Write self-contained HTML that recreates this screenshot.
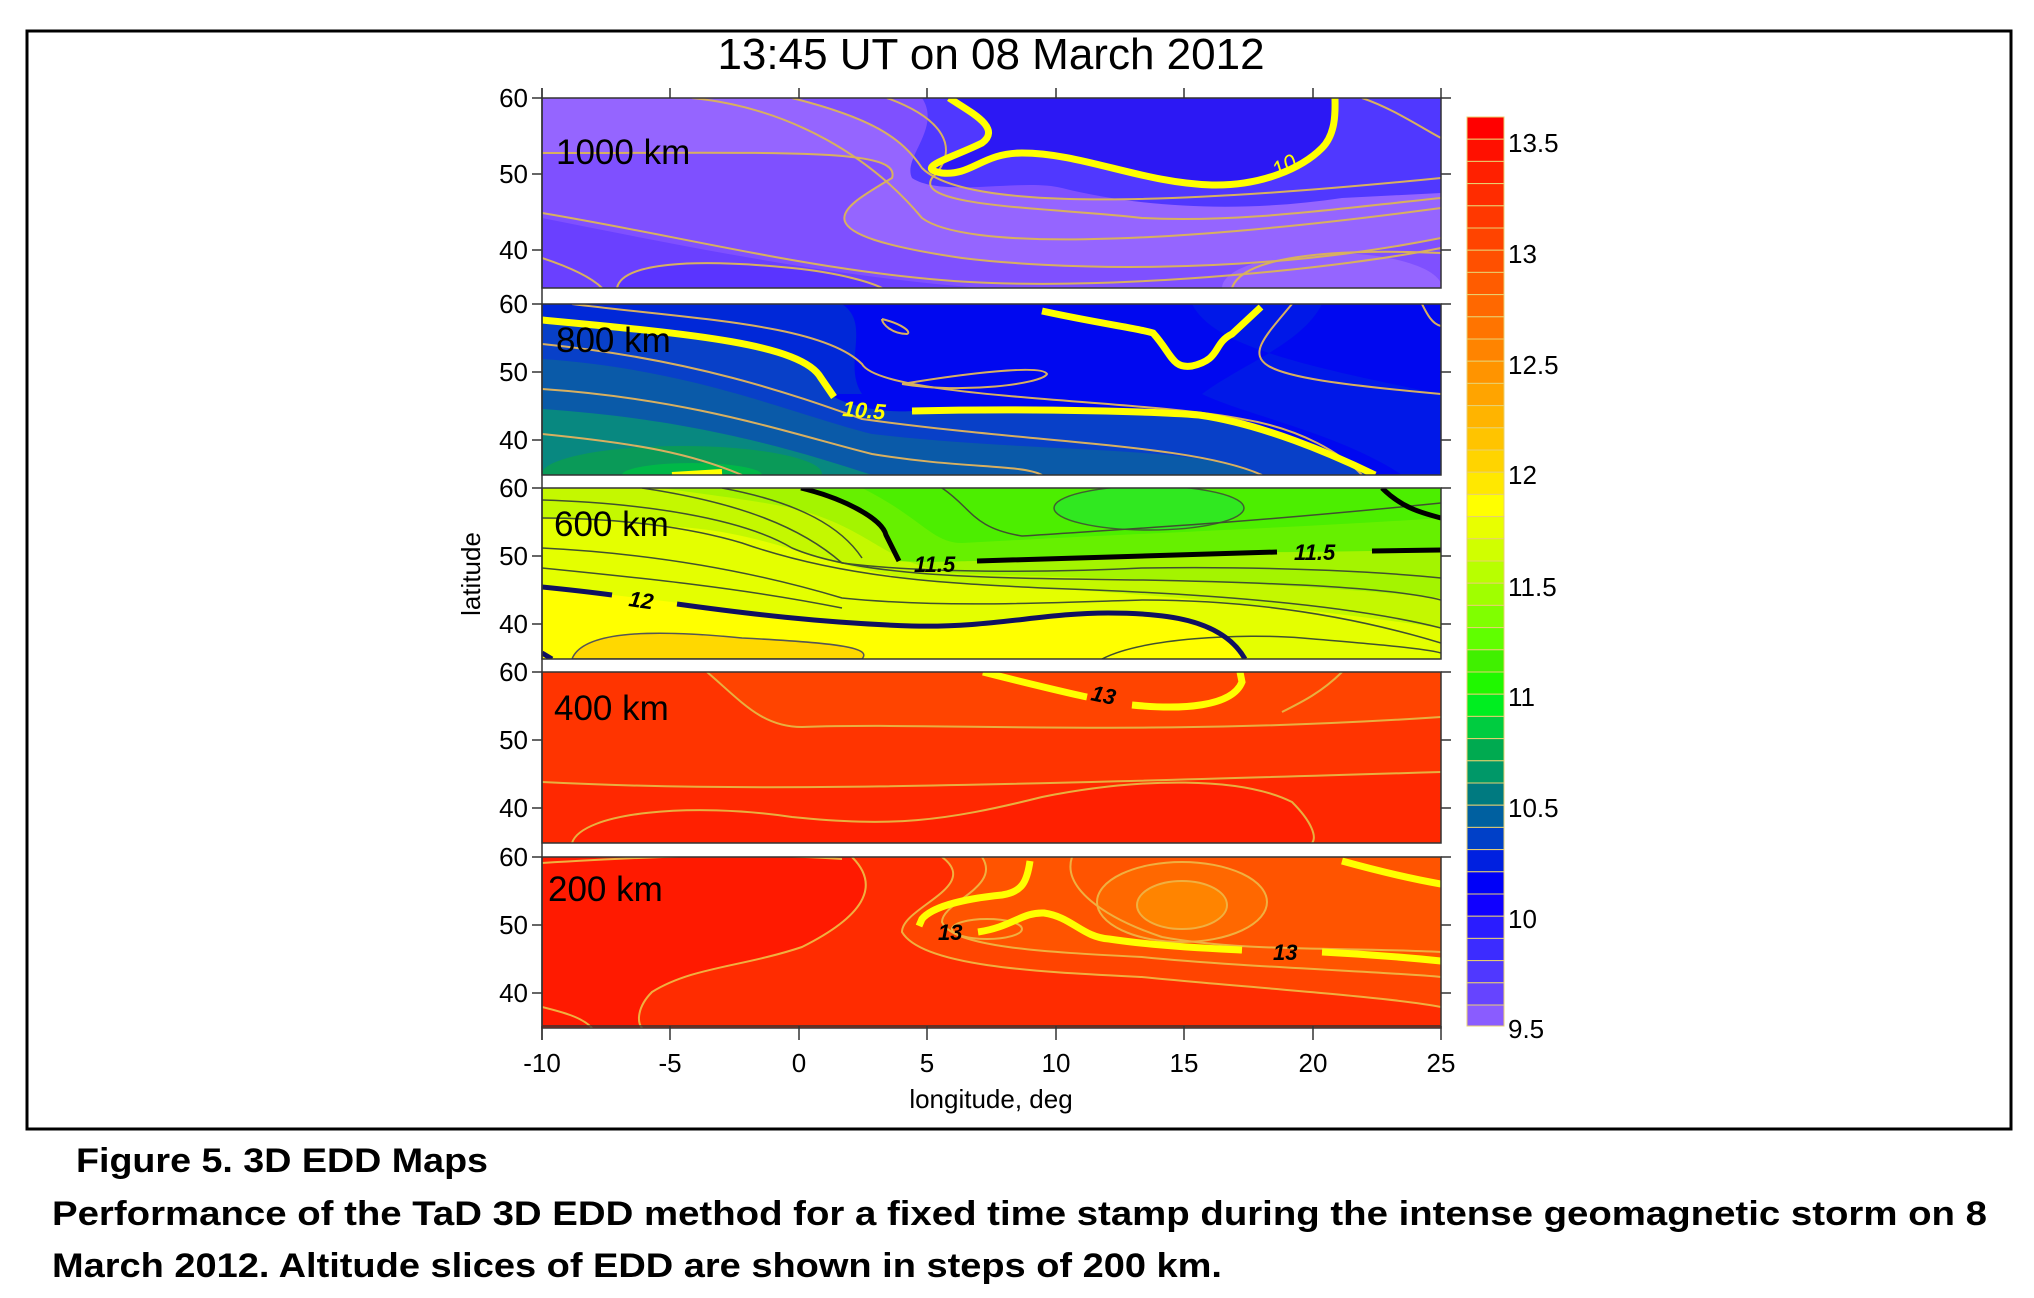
<!DOCTYPE html>
<html><head><meta charset="utf-8"><style>
html,body{margin:0;padding:0;background:#fff;}
svg{display:block;}
text{font-family:"Liberation Sans",Arial,sans-serif;}
</style></head><body>
<svg width="2034" height="1298" viewBox="0 0 2034 1298" xmlns="http://www.w3.org/2000/svg">
<defs>
<clipPath id="cp"><rect x="0" y="0" width="899" height="190"/></clipPath>
<clipPath id="cq"><rect x="0" y="0" width="899" height="171"/></clipPath>
</defs>
<rect x="27" y="31" width="1984" height="1098" fill="#fff" stroke="#000" stroke-width="3"/>
<text x="991" y="69" font-size="44" text-anchor="middle">13:45 UT on 08 March 2012</text>

<!-- 1000 km -->
<g transform="translate(542,98)">
<g clip-path="url(#cp)">
<rect width="899" height="190" fill="#7f50ff"/>
<path d="M0,0 L250,0 C330,20 360,40 380,70 C420,110 600,110 899,80 L899,140 C700,180 500,170 420,160 C250,135 300,110 350,80 C360,50 250,55 0,55 Z" fill="#9565ff"/>
<path d="M0,120 C150,150 300,180 440,190 L0,190 Z" fill="#6a40ff"/>
<path d="M75,190 C80,165 150,160 250,170 C300,175 330,185 340,190 Z" fill="#5a34ff"/>
<ellipse cx="790" cy="190" rx="110" ry="35" fill="#9565ff"/>
<path d="M380,0 C400,30 360,60 370,80 C400,100 480,80 520,90 C600,110 700,115 800,100 L899,95 L899,0 Z" fill="#5038ff"/>
<path d="M407,0 C430,15 460,30 440,45 C410,60 370,70 400,75 C430,78 440,55 480,55 C540,55 600,85 670,87 C720,88 760,70 780,50 C795,35 793,10 793,0 Z" fill="#2c18f4"/>
<g fill="none" stroke="#d8b060" stroke-width="2">
<path d="M150,0 C250,10 330,60 380,120 C420,150 600,150 899,110"/>
<path d="M250,0 C330,20 360,40 380,70 C420,110 600,110 899,80"/>
<path d="M0,55 C250,55 360,50 350,80 C300,110 250,135 420,160 C500,170 700,180 899,140"/>
<path d="M0,115 C150,140 300,180 450,185 C600,190 800,170 899,150"/>
<path d="M75,190 C80,165 150,160 250,170 C300,175 330,185 340,190"/>
<path d="M0,160 C30,170 50,180 60,190"/>
<path d="M345,0 C400,20 420,50 390,80 C370,110 520,110 600,120 C700,125 800,110 899,100"/>
<path d="M690,190 C700,160 780,150 899,155"/>
<path d="M820,0 C850,10 880,30 899,40"/>
</g>
<path d="M407,0 C430,15 460,30 440,45 C410,60 370,70 400,75 C430,78 440,55 480,55 C540,55 600,85 670,87 C720,88 760,70 780,50 C795,35 793,10 793,0" fill="none" stroke="#ffff00" stroke-width="7"/>
<text x="735" y="80" font-size="22" fill="#ffff00" font-style="italic" transform="rotate(-28 735 80)">10</text>
</g>
<rect width="899" height="190" fill="none" stroke="#333" stroke-width="1.5"/>
<text x="14" y="66" font-size="35">1000 km</text>
</g>

<!-- 800 km -->
<g transform="translate(542,304)">
<g clip-path="url(#cq)">
<rect width="899" height="171" fill="#0008f0"/>
<path d="M0,0 H300 C330,20 300,60 320,90 L0,90 Z" fill="#0028d8"/>
<path d="M0,16 C150,30 260,40 279,74 L292,93 C320,108 360,108 370,107 C500,104 620,108 657,111 C720,120 790,150 833,171 L0,171 Z" fill="#0840c8"/>
<path d="M0,55 C150,65 250,110 330,130 C500,150 650,140 720,171 L0,171 Z" fill="#0a5aa8"/>
<path d="M0,105 C150,115 250,145 330,171 L0,171 Z" fill="#088880"/>
<ellipse cx="140" cy="170" rx="140" ry="28" fill="#0a9a58"/>
<ellipse cx="150" cy="171" rx="70" ry="12" fill="#00b848"/>
<path d="M650,0 C670,40 750,60 899,90 L899,171 L860,171 C800,130 700,110 660,90 C700,60 760,40 780,0 Z" fill="#0018e8"/>
<g fill="none" stroke="#d8b060" stroke-width="2">
<path d="M0,40 C150,55 250,90 320,115 C500,140 650,140 720,171"/>
<path d="M0,85 C150,95 250,130 330,150 C420,165 480,160 500,171"/>
<path d="M0,130 C100,140 150,150 200,171"/>
<path d="M30,0 C150,15 280,20 320,60 C340,95 600,95 700,115 C760,125 800,150 820,171"/>
<path d="M360,80 C420,70 500,60 505,70 C500,80 420,90 360,80"/>
<path d="M340,15 C360,20 370,28 365,30 C350,30 340,20 340,15"/>
<path d="M750,0 C700,60 680,70 899,90"/>
<path d="M880,0 C885,10 890,20 899,22"/>
</g>
<path d="M0,16 C150,30 260,40 279,74 L292,93" fill="none" stroke="#ffff00" stroke-width="7"/>
<path d="M370,107 C500,104 620,108 657,111 C720,120 790,150 833,171" fill="none" stroke="#ffff00" stroke-width="7"/>
<path d="M500,7 C560,20 600,25 611,29 C630,50 630,65 650,62 C680,55 670,40 690,30 L719,3" fill="none" stroke="#ffff00" stroke-width="7"/>
<path d="M130,171 L180,168" stroke="#ffff00" stroke-width="6"/>
<text x="300" y="112" font-size="22" fill="#ffff00" font-style="italic" font-weight="bold" transform="rotate(5 300 112)">10.5</text>
</g>
<rect width="899" height="171" fill="none" stroke="#333" stroke-width="1.5"/>
<text x="14" y="48" font-size="35">800 km</text>
</g>

<!-- 600 km -->
<g transform="translate(542,488)">
<g clip-path="url(#cq)">
<rect width="899" height="171" fill="#ffff00"/>
<path d="M0,0 H899 V171 L703,171 C680,130 620,125 566,125 C500,125 450,140 370,138 C280,135 150,115 0,99 Z" fill="#e4ff00"/>
<path d="M0,0 L899,0 L899,140 C700,110 500,100 420,95 C300,90 250,50 150,40 C80,35 40,30 0,30 Z" fill="#c4f800"/>
<path d="M120,0 L899,0 L899,110 C700,90 500,90 410,85 C340,75 330,40 250,20 C200,10 150,5 120,0 Z" fill="#a4f400"/>
<path d="M259,0 C300,10 340,30 344,47 L357,73 C380,75 420,73 435,73 C600,68 700,64 761,64 L899,62 L899,0 Z" fill="#66f000"/>
<path d="M320,0 C380,30 390,55 420,55 C600,45 750,40 899,30 L899,0 Z" fill="#4cee00"/>
<ellipse cx="607" cy="20" rx="95" ry="22" fill="#30e820" stroke="#406030" stroke-width="1.5"/>
<path d="M30,171 C40,145 100,140 200,150 C300,155 330,160 320,171 Z" fill="#ffd800" stroke="#555" stroke-width="1.5"/>
<g fill="none" stroke="#405030" stroke-width="1.5">
<path d="M0,30 C80,30 150,40 200,55 C300,90 400,95 500,100 C650,105 800,115 899,140"/>
<path d="M0,12 C100,15 200,30 250,60 C320,90 450,90 600,92 C750,95 850,100 899,112"/>
<path d="M100,0 C200,15 260,40 300,75 C380,85 500,85 600,80 C750,78 850,85 899,90"/>
<path d="M180,0 C260,15 300,40 320,70"/>
<path d="M0,60 C100,65 200,80 300,110 C400,120 500,115 600,112 C700,112 800,125 899,155"/>
<path d="M560,171 C600,150 700,145 760,150 C820,155 880,160 899,165"/>
<path d="M400,0 C430,20 430,40 480,48 C600,40 700,35 899,15"/>
<path d="M0,80 C100,90 200,100 300,120"/>
</g>
<path d="M259,0 C300,10 340,30 344,47 L357,73 M435,73 C600,68 680,65 735,64 M830,63 L899,62" fill="none" stroke="#000" stroke-width="5"/>
<path d="M840,0 C860,20 880,25 899,30" fill="none" stroke="#000" stroke-width="5"/>
<path d="M0,99 C30,102 55,105 70,107 M135,116 C200,125 280,135 370,138 C450,140 500,125 566,125 C620,125 680,130 703,171" fill="none" stroke="#101060" stroke-width="5"/>
<path d="M0,165 L10,171" stroke="#101060" stroke-width="5"/>
<text x="372" y="84" font-size="22" font-weight="bold" font-style="italic">11.5</text>
<text x="752" y="72" font-size="22" font-weight="bold" font-style="italic">11.5</text>
<text x="86" y="118" font-size="22" font-weight="bold" font-style="italic" transform="rotate(8 86 118)">12</text>
</g>
<rect width="899" height="171" fill="none" stroke="#333" stroke-width="1.5"/>
<text x="12" y="48" font-size="35">600 km</text>
</g>

<!-- 400 km -->
<g transform="translate(542,672)">
<g clip-path="url(#cq)">
<rect width="899" height="171" fill="#ff3400"/>
<path d="M165,0 C200,30 220,55 260,55 C400,50 600,65 899,45 L899,0 Z" fill="#ff4400"/>
<path d="M0,110 C200,120 400,115 899,100 L899,171 L0,171 Z" fill="#ff2800"/>
<path d="M30,171 C40,140 150,130 250,145 C350,155 400,150 500,125 C600,105 700,105 750,130 C770,150 775,165 770,171 Z" fill="#ff2000"/>
<g fill="none" stroke="#e8b040" stroke-width="2">
<path d="M165,0 C200,30 220,55 260,55 C400,50 600,65 899,45"/>
<path d="M0,110 C200,120 400,115 899,100"/>
<path d="M30,171 C40,140 150,130 250,145 C350,155 400,150 500,125 C600,105 700,105 750,130 C770,150 775,165 770,171"/>
<path d="M800,0 C780,20 760,30 740,40"/>
</g>
<path d="M441,0 C480,10 530,22 545,25 M590,33 C640,38 690,35 700,10 L698,0" fill="none" stroke="#ffff00" stroke-width="7"/>
<text x="548" y="28" font-size="22" font-weight="bold" font-style="italic" transform="rotate(12 548 28)">13</text>
</g>
<rect width="899" height="171" fill="none" stroke="#333" stroke-width="1.5"/>
<text x="12" y="48" font-size="35">400 km</text>
</g>

<!-- 200 km -->
<g transform="translate(542,857)">
<g clip-path="url(#cq)">
<rect width="899" height="171" fill="#ff1a00"/>
<path d="M310,0 C340,30 320,60 260,90 C200,110 150,110 110,135 C95,150 95,165 100,171 L899,171 L899,0 Z" fill="#ff2c00"/>
<path d="M400,0 C440,30 360,50 360,75 C380,110 500,115 600,120 C700,130 850,140 899,150 L899,0 Z" fill="#ff4400"/>
<path d="M440,0 C460,30 400,45 400,65 C410,90 500,95 600,100 C700,110 850,115 899,120 L899,0 Z" fill="#ff5400"/>
<ellipse cx="640" cy="45" rx="85" ry="40" fill="#ff6800"/>
<ellipse cx="640" cy="48" rx="45" ry="24" fill="#ff8400"/>
<g fill="none" stroke="#f0b040" stroke-width="2">
<path d="M310,0 C340,30 320,60 260,90 C200,110 150,110 110,135 C95,150 95,165 100,171"/>
<path d="M400,0 C440,30 360,50 360,75 C380,110 500,115 600,120 C700,130 850,140 899,150"/>
<path d="M440,0 C460,30 400,45 400,65 C410,90 500,95 600,100 C700,110 850,115 899,120"/>
<ellipse cx="640" cy="45" rx="85" ry="40"/>
<ellipse cx="640" cy="48" rx="45" ry="24"/>
<ellipse cx="445" cy="72" rx="35" ry="10"/>
<path d="M0,6 C100,0 200,-5 300,2"/>
<path d="M0,150 C20,155 40,160 50,171"/>
<path d="M530,0 C520,30 560,60 620,80 C700,95 800,90 899,95"/>
</g>
<path d="M488,4 C485,25 480,35 460,38 C420,42 390,50 380,62 L377,69" fill="none" stroke="#ffff00" stroke-width="7"/>
<path d="M436,75 C470,70 480,55 502,56 C530,60 540,80 567,82 C620,90 680,92 700,93 M780,95 C820,97 860,100 899,104" fill="none" stroke="#ffff00" stroke-width="7"/>
<path d="M800,4 C840,15 870,22 899,27" fill="none" stroke="#ffff00" stroke-width="7"/>
<text x="396" y="83" font-size="22" font-weight="bold" font-style="italic">13</text>
<text x="731" y="103" font-size="22" font-weight="bold" font-style="italic">13</text>
</g>
<rect width="899" height="171" fill="none" stroke="#333" stroke-width="1.5"/>
<text x="6" y="44" font-size="35">200 km</text>
</g>

<!-- axes ticks and labels -->
<g stroke="#333" stroke-width="1.5">
<path d="M532,98 H542 M532,174 H542 M532,250 H542"/>
<path d="M532,304 H542 M532,372 H542 M532,440 H542"/>
<path d="M532,488 H542 M532,556 H542 M532,624 H542"/>
<path d="M532,672 H542 M532,740 H542 M532,808 H542"/>
<path d="M532,857 H542 M532,925 H542 M532,993 H542"/>
<path d="M1441,98 H1451 M1441,174 H1451 M1441,250 H1451 M1441,304 H1451 M1441,372 H1451 M1441,440 H1451 M1441,488 H1451 M1441,556 H1451 M1441,624 H1451 M1441,672 H1451 M1441,740 H1451 M1441,808 H1451 M1441,857 H1451 M1441,925 H1451 M1441,993 H1451"/>
<path d="M542,1026 V1040 M670,1026 V1040 M799,1026 V1040 M927,1026 V1040 M1056,1026 V1040 M1184,1026 V1040 M1313,1026 V1040 M1441,1026 V1040"/>
<path d="M542,88 V98 M670,88 V98 M799,88 V98 M927,88 V98 M1056,88 V98 M1184,88 V98 M1313,88 V98 M1441,88 V98"/>
<path d="M542,1026 H1441 M542,88 V1040"/>
</g>
<g font-size="26" text-anchor="end">
<text x="528" y="107">60</text><text x="528" y="183">50</text><text x="528" y="259">40</text>
<text x="528" y="313">60</text><text x="528" y="381">50</text><text x="528" y="449">40</text>
<text x="528" y="497">60</text><text x="528" y="565">50</text><text x="528" y="633">40</text>
<text x="528" y="681">60</text><text x="528" y="749">50</text><text x="528" y="817">40</text>
<text x="528" y="866">60</text><text x="528" y="934">50</text><text x="528" y="1002">40</text>
</g>
<g font-size="26" text-anchor="middle">
<text x="542" y="1072">-10</text><text x="670" y="1072">-5</text><text x="799" y="1072">0</text><text x="927" y="1072">5</text><text x="1056" y="1072">10</text><text x="1184" y="1072">15</text><text x="1313" y="1072">20</text><text x="1441" y="1072">25</text>
</g>
<text x="991" y="1108" font-size="26" text-anchor="middle">longitude, deg</text>
<text x="480" y="574" font-size="26" text-anchor="middle" transform="rotate(-90 480 574)">latitude</text>

<!-- colorbar -->
<g stroke="#e8d070" stroke-width="1">
<rect x="1467" y="117.0" width="37" height="22.2" fill="#ff0000"/>
<rect x="1467" y="139.2" width="37" height="22.2" fill="#ff1000"/>
<rect x="1467" y="161.4" width="37" height="22.2" fill="#ff2000"/>
<rect x="1467" y="183.6" width="37" height="22.2" fill="#ff2c00"/>
<rect x="1467" y="205.8" width="37" height="22.2" fill="#ff3800"/>
<rect x="1467" y="228.0" width="37" height="22.2" fill="#ff4400"/>
<rect x="1467" y="250.2" width="37" height="22.2" fill="#ff5000"/>
<rect x="1467" y="272.4" width="37" height="22.2" fill="#ff5c00"/>
<rect x="1467" y="294.6" width="37" height="22.2" fill="#ff6800"/>
<rect x="1467" y="316.8" width="37" height="22.2" fill="#ff7400"/>
<rect x="1467" y="339.0" width="37" height="22.2" fill="#ff8400"/>
<rect x="1467" y="361.2" width="37" height="22.2" fill="#ff9400"/>
<rect x="1467" y="383.4" width="37" height="22.2" fill="#ffa400"/>
<rect x="1467" y="405.6" width="37" height="22.2" fill="#ffb400"/>
<rect x="1467" y="427.8" width="37" height="22.2" fill="#ffc400"/>
<rect x="1467" y="450.0" width="37" height="22.2" fill="#ffd400"/>
<rect x="1467" y="472.2" width="37" height="22.2" fill="#ffe800"/>
<rect x="1467" y="494.4" width="37" height="22.2" fill="#ffff00"/>
<rect x="1467" y="516.6" width="37" height="22.2" fill="#e8ff00"/>
<rect x="1467" y="538.8" width="37" height="22.2" fill="#d0ff00"/>
<rect x="1467" y="561.0" width="37" height="22.2" fill="#b8ff00"/>
<rect x="1467" y="583.2" width="37" height="22.2" fill="#a0ff00"/>
<rect x="1467" y="605.4" width="37" height="22.2" fill="#80ff00"/>
<rect x="1467" y="627.6" width="37" height="22.2" fill="#60ff00"/>
<rect x="1467" y="649.8" width="37" height="22.2" fill="#40f000"/>
<rect x="1467" y="672.0" width="37" height="22.2" fill="#20f800"/>
<rect x="1467" y="694.2" width="37" height="22.2" fill="#00ee20"/>
<rect x="1467" y="716.4" width="37" height="22.2" fill="#00cc40"/>
<rect x="1467" y="738.6" width="37" height="22.2" fill="#00aa50"/>
<rect x="1467" y="760.8" width="37" height="22.2" fill="#009868"/>
<rect x="1467" y="783.0" width="37" height="22.2" fill="#007a80"/>
<rect x="1467" y="805.2" width="37" height="22.2" fill="#0060a0"/>
<rect x="1467" y="827.4" width="37" height="22.2" fill="#0040c8"/>
<rect x="1467" y="849.6" width="37" height="22.2" fill="#0020e0"/>
<rect x="1467" y="871.8" width="37" height="22.2" fill="#0000f8"/>
<rect x="1467" y="894.0" width="37" height="22.2" fill="#1000ff"/>
<rect x="1467" y="916.2" width="37" height="22.2" fill="#2a1cff"/>
<rect x="1467" y="938.4" width="37" height="22.2" fill="#3c2cff"/>
<rect x="1467" y="960.6" width="37" height="22.2" fill="#5038ff"/>
<rect x="1467" y="982.8" width="37" height="22.2" fill="#6644ff"/>
<rect x="1467" y="1005.0" width="37" height="21.0" fill="#8a5cff"/>
</g>
<g font-size="26">
<text x="1508" y="152">13.5</text>
<text x="1508" y="263">13</text>
<text x="1508" y="374">12.5</text>
<text x="1508" y="484">12</text>
<text x="1508" y="596">11.5</text>
<text x="1508" y="706">11</text>
<text x="1508" y="817">10.5</text>
<text x="1508" y="928">10</text>
<text x="1508" y="1038">9.5</text>
</g>

<!-- caption -->
<g font-weight="bold" font-size="34">
<text x="76" y="1172" textLength="412" lengthAdjust="spacingAndGlyphs">Figure 5. 3D EDD Maps</text>
<text x="52" y="1225" textLength="1935" lengthAdjust="spacingAndGlyphs">Performance of the TaD 3D EDD method for a fixed time stamp during the intense geomagnetic storm on 8</text>
<text x="52" y="1277" textLength="1170" lengthAdjust="spacingAndGlyphs">March 2012. Altitude slices of EDD are shown in steps of 200 km.</text>
</g>
</svg>
</body></html>
